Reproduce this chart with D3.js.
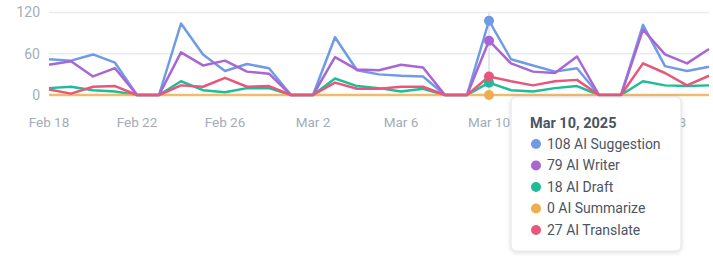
<!DOCTYPE html>
<html>
<head>
<meta charset="utf-8">
<script src="https://cdn.jsdelivr.net/npm/d3@7"></script>
<style>
  body { margin: 0; background: #fff; font-family: Roboto, "Noto Sans", sans-serif; }
  svg { display: block; }
</style>
</head>
<body>
<svg id="chart" width="713" height="268"></svg>
<script>
// days shown on the chart, Feb 18 .. Mar 20 2025
let startDate = new Date(2025, 1, 18);
let dates = d3.range(31).map(i => d3.timeDay.offset(startDate, i));

let seriesNames = ["AI Suggestion", "AI Writer", "AI Draft", "AI Summarize", "AI Translate"];
let seriesColors = ["#6f9be6", "#a966d3", "#1fbc97", "#f0ad4e", "#e8577b"];

let suggestion = [52, 50, 59, 47, 0, 0, 104, 59, 35, 45, 39, 0, 0, 84, 36, 30, 28, 27, 0, 0, 108, 52, 43, 34, 39, 0, 0, 102, 42, 35, 41];
let writer     = [44, 49, 27, 39, 0, 0, 62, 43, 50, 34, 31, 0, 0, 55, 37, 36, 44, 40, 0, 0, 79, 46, 34, 32, 56, 0, 0, 95, 59, 46, 67];
let draft      = [10, 12, 7, 5, 0, 0, 20, 7, 4, 10, 10, 0, 0, 24, 13, 10, 5, 9, 0, 0, 18, 7, 5, 10, 13, 0, 0, 20, 14, 13, 14];
let summarize  = [0, 0, 0, 0, 0, 0, 0, 0, 0, 0, 0, 0, 0, 0, 0, 0, 0, 0, 0, 0, 0, 0, 0, 0, 0, 0, 0, 0, 0, 0, 0];
let translate  = [8, 2, 12, 13, 0, 0, 14, 12, 25, 12, 13, 0, 0, 18, 9, 9, 12, 12, 0, 0, 27, 20, 14, 20, 22, 0, 0, 46, 32, 14, 28];

let yTicks = [0, 60, 120];
let xTickDates = d3.range(0, 31, 4).map(i => dates[i]);
let hoverIndex = 20; // Mar 10

let allSeries = [suggestion, writer, draft, summarize, translate];

let svg = d3.select("#chart");

let x = d3.scaleTime().domain([dates[0], dates[dates.length - 1]]).range([49, 709]);
let y = d3.scaleLinear().domain([0, 120]).range([95, 12.5]);

// gridlines
svg.append("g")
    .selectAll("line")
    .data(yTicks)
    .enter().append("line")
    .attr("x1", 49).attr("x2", 709)
    .attr("y1", d => y(d)).attr("y2", d => y(d))
    .attr("stroke", "#e8ecef")
    .attr("stroke-width", 1.5);

// y labels
svg.append("g")
    .selectAll("text")
    .data(yTicks)
    .enter().append("text")
    .attr("x", 40)
    .attr("y", d => y(d))
    .attr("dy", "0.35em")
    .attr("text-anchor", "end")
    .attr("fill", "#a3adb8")
    .attr("font-size", 14)
    .text(d => d);

// x labels
let fmt = d3.timeFormat("%b %-d");
svg.append("g")
    .selectAll("text")
    .data(xTickDates)
    .enter().append("text")
    .attr("x", d => x(d))
    .attr("y", 127)
    .attr("text-anchor", "middle")
    .attr("fill", "#a3adb8")
    .attr("font-size", 13.5)
    .text(d => fmt(d));

// hover line
svg.append("line")
    .attr("x1", x(dates[hoverIndex])).attr("x2", x(dates[hoverIndex]))
    .attr("y1", y(120)).attr("y2", y(0))
    .attr("stroke", "#dde2e7")
    .attr("stroke-width", 1.5);

let line = d3.line()
    .x((d, i) => x(dates[i]))
    .y(d => y(d));

svg.append("g")
    .selectAll("path")
    .data(allSeries)
    .enter().append("path")
    .attr("d", d => line(d))
    .attr("fill", "none")
    .attr("stroke", (d, i) => seriesColors[i])
    .attr("stroke-width", 2.5)
    .attr("stroke-linejoin", "round")
    .attr("opacity", (d, i) => i === 3 ? 0.8 : 1);

// hover points
svg.append("g")
    .selectAll("circle")
    .data(allSeries)
    .enter().append("circle")
    .attr("cx", x(dates[hoverIndex]))
    .attr("cy", d => y(d[hoverIndex]))
    .attr("r", 5)
    .attr("fill", (d, i) => seriesColors[i]);

// tooltip
let tip = svg.append("g").attr("transform", "translate(511,97)");
let defs = svg.append("defs");
let filter = defs.append("filter").attr("id", "shadow").attr("x", "-10%").attr("y", "-10%").attr("width", "120%").attr("height", "120%");
filter.append("feDropShadow").attr("dx", 0).attr("dy", 1).attr("stdDeviation", 2).attr("flood-color", "#000").attr("flood-opacity", 0.15);

tip.append("rect")
    .attr("width", 170).attr("height", 154)
    .attr("rx", 5)
    .attr("fill", "#fff")
    .attr("stroke", "#e1e4e8")
    .attr("filter", "url(#shadow)");

tip.append("text")
    .attr("x", 19).attr("y", 31)
    .attr("font-size", 14.5)
    .attr("font-weight", "bold")
    .attr("fill", "#4a5462")
    .text(d3.timeFormat("%b %-d, %Y")(dates[hoverIndex]));

let rows = tip.selectAll("g.row")
    .data(seriesNames)
    .enter().append("g")
    .attr("class", "row")
    .attr("transform", (d, i) => "translate(0," + (47 + i * 21.5) + ")");

rows.append("circle")
    .attr("cx", 25).attr("cy", 0).attr("r", 5)
    .attr("fill", (d, i) => seriesColors[i]);

rows.append("text")
    .attr("x", 36).attr("y", 0)
    .attr("dy", "0.35em")
    .attr("font-size", 14)
    .attr("fill", "#4b5563")
    .text((d, i) => allSeries[i][hoverIndex] + " " + d);
</script>
</body>
</html>
